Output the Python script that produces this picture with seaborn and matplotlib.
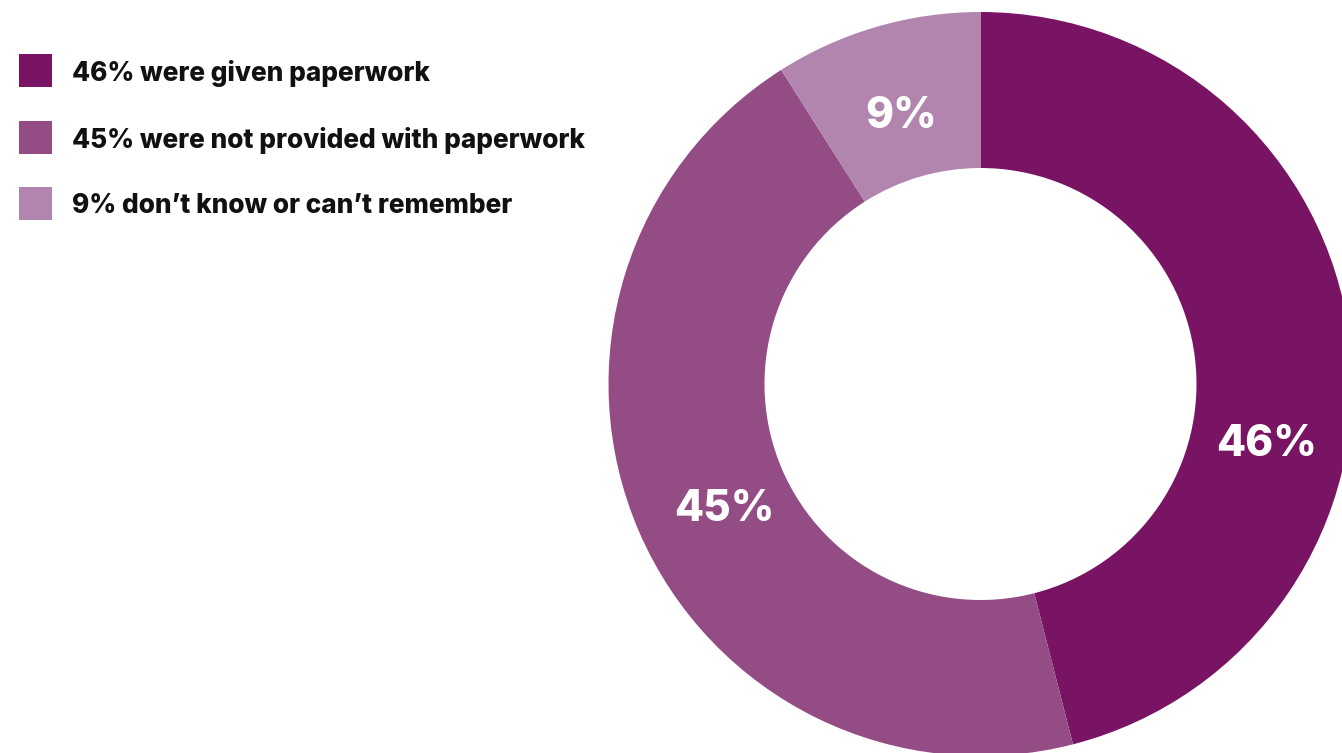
import matplotlib
matplotlib.use("Agg")
import matplotlib.pyplot as plt
import seaborn as sns
import numpy as np

# Survey responses: share of people given paperwork
categories = ["were given paperwork",
              "were not provided with paperwork",
              "don\u2019t know or can\u2019t remember"]
shares = [46, 45, 9]
colors = ["#781463", "#944C84", "#B285AF"]

sns.set_theme(style="white")
plt.rcParams["font.family"] = ["Inter", "DejaVu Sans"]

W, H = 1342, 753
fig = plt.figure(figsize=(W / 100, H / 100), dpi=100)
ax = fig.add_axes([0, 0, 1, 1])

palette = sns.color_palette(colors)
center = (980.5, H - 384)
outer_r = 372
ring_w = 156

wedges, _ = ax.pie(shares, colors=palette, startangle=90, counterclock=False,
                   radius=outer_r, center=center,
                   wedgeprops=dict(width=ring_w, linewidth=0, antialiased=True))

# Value labels inside the ring; the first one is nudged down so it stays in view
label_r = [291, 283, 283]
angle_shift = [-18.2, 1.9, 0]
for w, v, r, sh in zip(wedges, shares, label_r, angle_shift):
    mid = np.deg2rad((w.theta1 + w.theta2) / 2 + sh)
    x = center[0] + r * np.cos(mid)
    y = center[1] + r * np.sin(mid)
    ax.text(x, y, f"{v}%", color="white", fontsize=30.5, fontweight=800,
            ha="center", va="center_baseline")

# Legend: coloured squares with the share in the label
sq = 33
row_y = [70, 137, 203]
for c, v, lab, ry in zip(palette, shares, categories, row_y):
    yc = H - ry
    ax.add_patch(plt.Rectangle((19, yc - sq / 2), sq, sq, color=c, linewidth=0))
    ax.text(72, yc, f"{v}% {lab}", color="#111111", fontsize=18.9,
            fontweight=800, ha="left", va="center_baseline")

ax.set_xlim(0, W)
ax.set_ylim(0, H)
ax.set_aspect("equal")
ax.axis("off")

fig.savefig("out.png", dpi=100, facecolor="white")
